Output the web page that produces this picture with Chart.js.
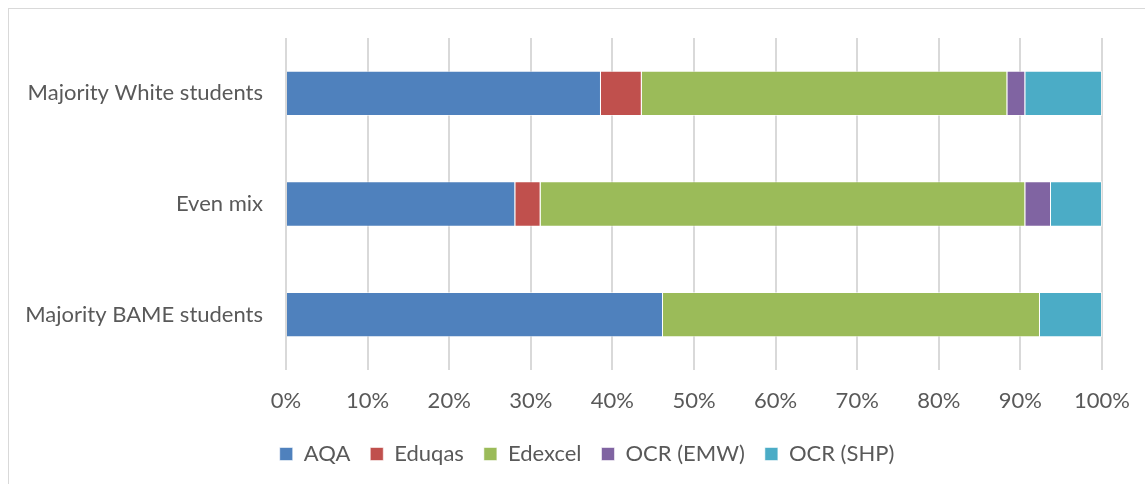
<!DOCTYPE html>
<html>
<head>
<meta charset="utf-8">
<script src="https://cdn.jsdelivr.net/npm/chart.js@4"></script>
<style>
  html, body { margin: 0; padding: 0; background: #fff; overflow: hidden; }
  #frame { position: absolute; left: 8px; top: 8px; width: 1200px; height: 600px; border: 1px solid #d9d9d9; box-sizing: border-box; }
  #wrap { position: absolute; left: 0; top: 0; width: 1145px; height: 484px; }
</style>
</head>
<body>
<div id="frame"></div>
<div id="wrap"><canvas id="c" width="1145" height="484"></canvas></div>
<script>
const categories = ["Majority White students", "Even mix", "Majority BAME students"];
const seriesNames = ["AQA", "Eduqas", "Edexcel", "OCR (EMW)", "OCR (SHP)"];
const aqa      = [38.6, 28.1, 46.2];
const eduqas   = [5.0, 3.1, 0];
const edexcel  = [44.8, 59.4, 46.2];
const ocrEmw   = [2.2, 3.15, 0];
const ocrShp   = [9.4, 6.25, 7.6];
const colors = ["#4F81BD", "#C0504D", "#9BBB59", "#8064A2", "#4BACC6"];

const seriesValues = [aqa, eduqas, edexcel, ocrEmw, ocrShp];
const FONT = "Lato, 'Open Sans', sans-serif";

const shiftLegend = {
  id: 'shiftLegend',
  afterLayout(chart) {
    const lg = chart.legend;
    if (lg) { lg.left += 36; lg.right += 36; }
  }
};

new Chart(document.getElementById('c'), {
  type: 'bar',
  data: {
    labels: categories,
    datasets: seriesNames.map((n, i) => ({
      label: n,
      data: seriesValues[i],
      backgroundColor: colors[i],
      borderColor: 'rgba(255,255,255,0.55)',
      borderWidth: 1,
      categoryPercentage: 0.41,
      barPercentage: 1.0
    }))
  },
  plugins: [shiftLegend],
  options: {
    indexAxis: 'y',
    responsive: false,
    animation: false,
    layout: { padding: { left: 0, right: 43, top: 38, bottom: 9 } },
    plugins: {
      legend: {
        position: 'bottom',
        labels: {
          boxWidth: 13, boxHeight: 13, padding: 20,
          color: '#595959',
          font: { family: FONT, size: 22 }
        }
      },
      tooltip: { enabled: false }
    },
    scales: {
      x: {
        stacked: true,
        min: 0, max: 100,
        afterFit: s => { s.height = 53; s.paddingRight = 0; s.paddingLeft = 0; },
        ticks: {
          stepSize: 10,
          callback: v => v + '%',
          color: '#595959',
          font: { family: FONT, size: 22 },
          padding: 18
        },
        grid: { color: '#d9d9d9', lineWidth: 2, drawTicks: false },
        border: { display: false }
      },
      y: {
        stacked: true,
        afterFit: s => { s.width = 286; },
        ticks: {
          color: '#595959',
          font: { family: FONT, size: 22 },
          padding: 15
        },
        grid: { display: false },
        border: { display: false }
      }
    }
  }
});
</script>
</body>
</html>
